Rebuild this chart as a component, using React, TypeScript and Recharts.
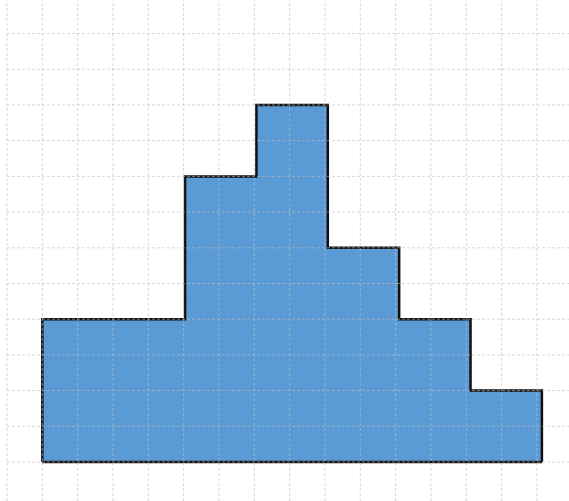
import React from 'react';
import { ComposedChart, Area, XAxis, YAxis, ReferenceLine } from 'recharts';

const binEdges = [1, 3.02, 5.04, 7.06, 9.08, 11.1, 13.12, 15.14];
const binCounts = [4, 4, 8, 10, 6, 4, 2];
const xGridTicks = [0, 1, 2, 3, 4, 5, 6, 7, 8, 9, 10, 11, 12, 13, 14, 15];
const yGridTicks = [0, 1, 2, 3, 4, 5, 6, 7, 8, 9, 10, 11, 12];

const outline: { x: number; y: number }[] = [{ x: binEdges[0], y: 0 }];
binCounts.forEach((c, i) => {
  outline.push({ x: binEdges[i], y: c });
  outline.push({ x: binEdges[i + 1], y: c });
});
outline.push({ x: binEdges[binEdges.length - 1], y: 0 });

const gridStroke = 'rgba(190,190,190,0.6)';

export default function App() {
  return (
    <div style={{ position: 'absolute', left: 0, top: 0 }}>
      <ComposedChart
        width={569}
        height={501}
        data={outline}
        margin={{ top: 0, right: 0, bottom: 0, left: 7 }}
      >
        <XAxis dataKey="x" type="number" domain={[0, 15.907]} allowDataOverflow hide />
        <YAxis type="number" domain={[-1.092, 12.941]} allowDataOverflow hide />
        <Area
          dataKey="y"
          type="linear"
          baseValue={0}
          fill="#5b9bd5"
          fillOpacity={1}
          stroke="#111"
          strokeWidth={2.5}
          isAnimationActive={false}
          dot={false}
          activeDot={false}
        />
        <ReferenceLine
          segment={[
            { x: binEdges[0], y: 0 },
            { x: binEdges[binEdges.length - 1], y: 0 },
          ]}
          stroke="#111"
          strokeWidth={2.5}
        />
        {xGridTicks.map((t) => (
          <ReferenceLine key={'vx' + t} x={t} stroke={gridStroke} strokeDasharray="3 2" strokeWidth={1} />
        ))}
        {yGridTicks.map((t) => (
          <ReferenceLine key={'hy' + t} y={t} stroke={gridStroke} strokeDasharray="3 2" strokeWidth={1} />
        ))}
      </ComposedChart>
    </div>
  );
}
